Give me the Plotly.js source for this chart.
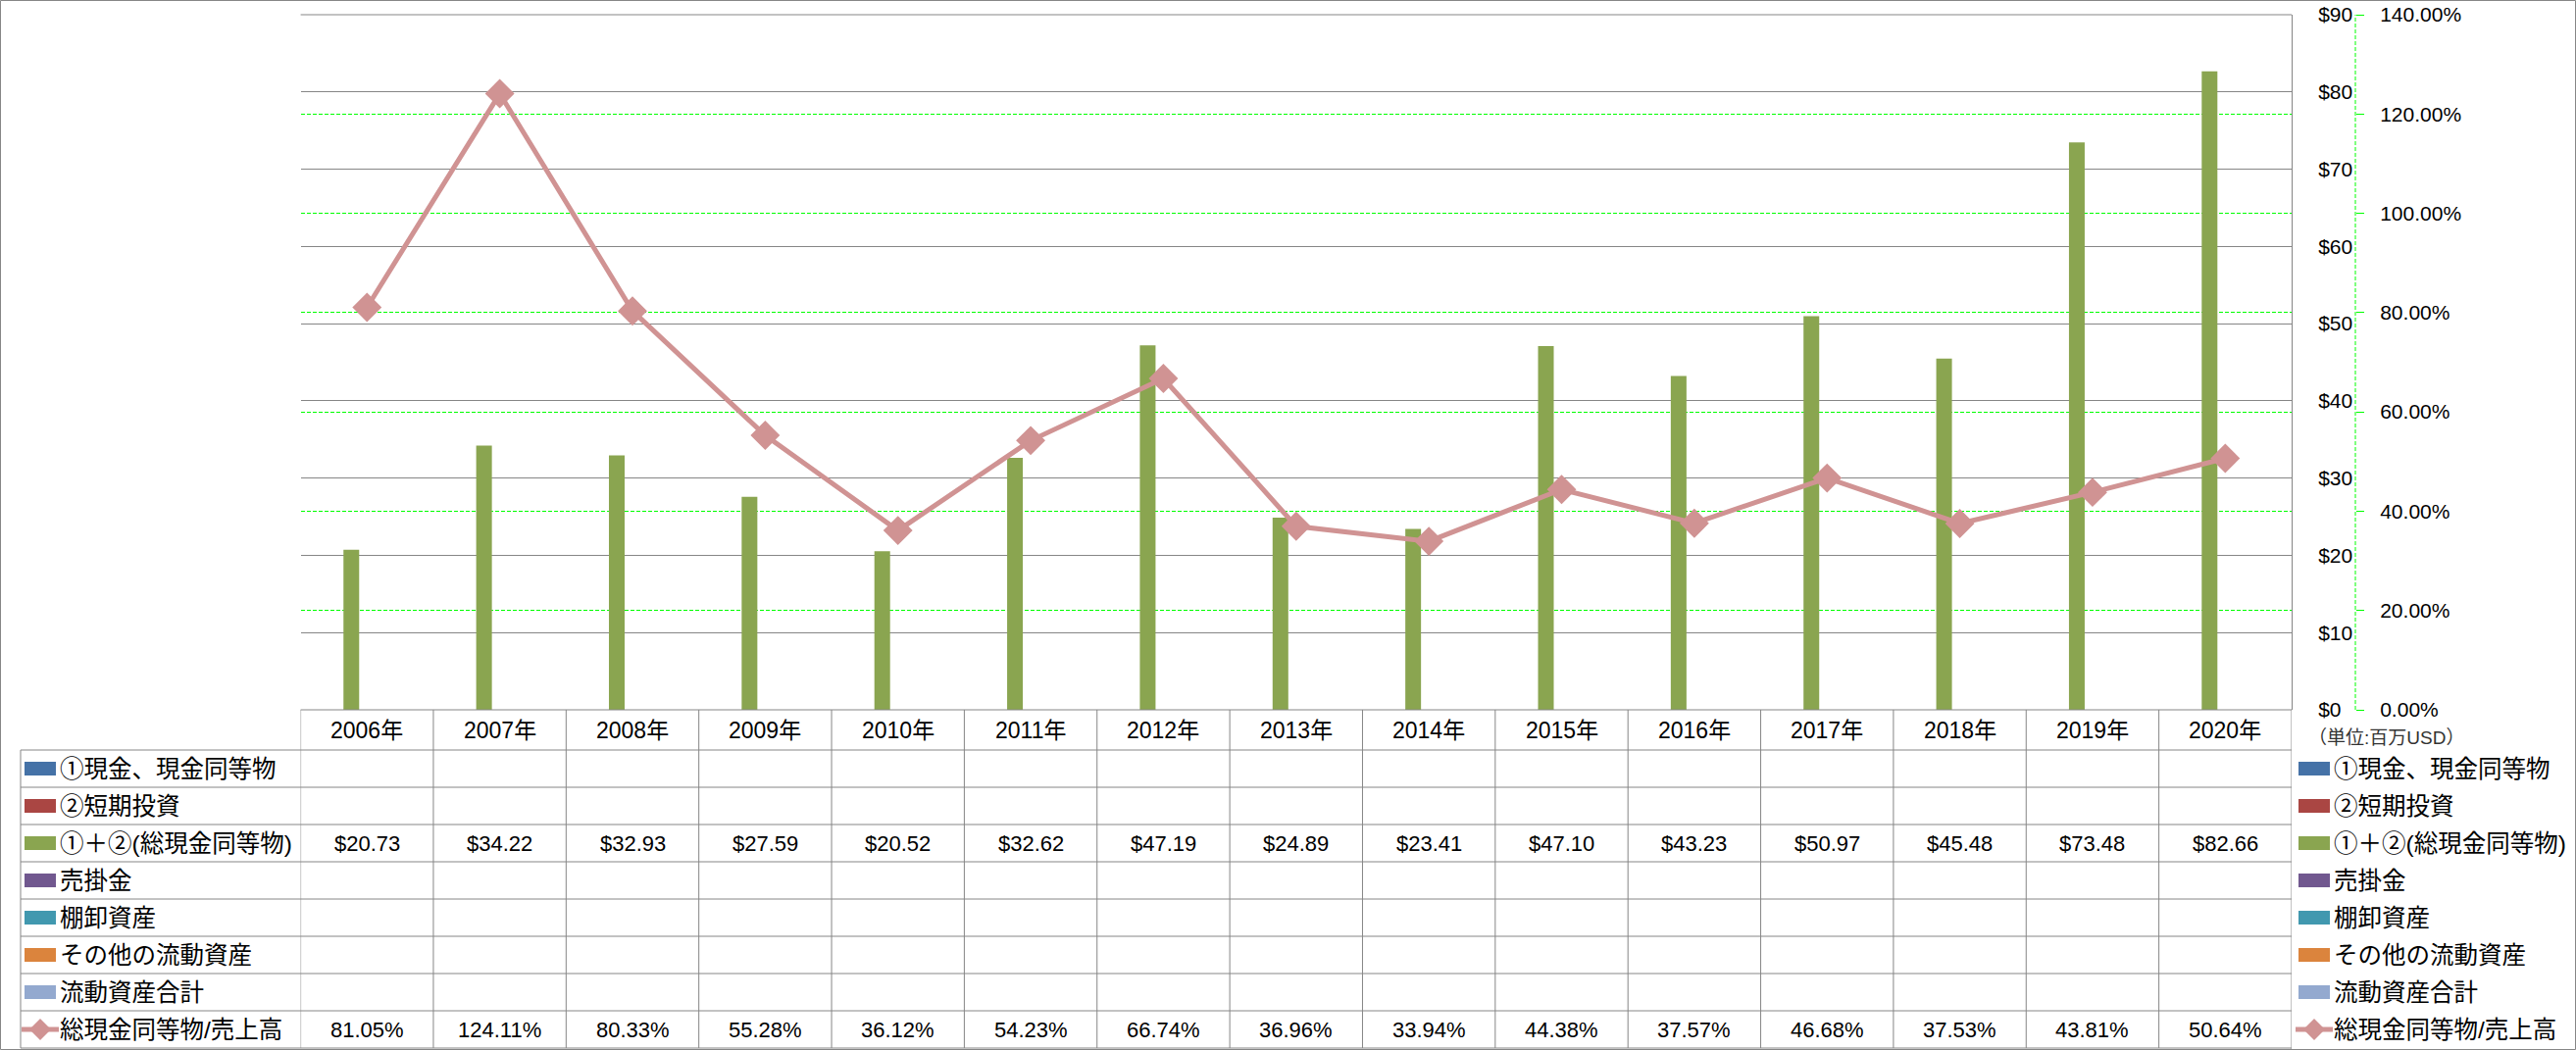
<!DOCTYPE html>
<html><head><meta charset="utf-8">
<script src="https://cdn.plot.ly/plotly-3.0.1.min.js"></script>
<style>html,body{margin:0;padding:0;background:#fff;}#chart{width:2627px;height:1071px;}</style>
</head><body><div id="chart"></div>
<script>
// ---------- data ----------
const years = ['2006年','2007年','2008年','2009年','2010年','2011年','2012年','2013年','2014年','2015年','2016年','2017年','2018年','2019年','2020年'];
const cashTotal = [20.73,34.22,32.93,27.59,20.52,32.62,47.19,24.89,23.41,47.10,43.23,50.97,45.48,73.48,82.66];
const cashToSales = [81.05,124.11,80.33,55.28,36.12,54.23,66.74,36.96,33.94,44.38,37.57,46.68,37.53,43.81,50.64];
const seriesNames = ['①現金、現金同等物','②短期投資','①＋②(総現金同等物)','売掛金','棚卸資産','その他の流動資産','流動資産合計','総現金同等物/売上高'];
const seriesColors = ['#4572A7','#AA4643','#8AA550','#71588F','#4198AF','#DB843D','#93A9CF','#D09393'];
const unitNote = '（単位:百万USD）';

// ---------- geometry helpers ----------
const W = 2627, H = 1071;
const X = px => px / W;
const Y = px => 1 - px / H;
const plotLeft = 306.6, plotRight = 2337, plotTop = 15, plotBottom = 724;
const headerBottom = 765, rowH = 38;
const rowCenter = k => headerBottom + rowH * k + rowH / 2;
const FONT = 'Liberation Sans, Noto Sans CJK JP, sans-serif';

// ---------- traces ----------
const traces = [];
for (let s = 0; s < 7; s++) {
  traces.push({
    type: 'bar', x: years,
    y: s === 2 ? cashTotal : years.map(() => null),
    name: seriesNames[s], marker: {color: seriesColors[s], line: {width: 0}},
    xaxis: 'x', yaxis: 'y', hoverinfo: 'skip'
  });
}
traces.push({
  type: 'scatter', mode: 'lines+markers', x: years,
  y: cashToSales.map(v => v / 100), name: seriesNames[7],
  xaxis: 'x', yaxis: 'y2',
  line: {color: seriesColors[7], width: 5},
  marker: {symbol: 'diamond', size: 23, color: seriesColors[7], line: {width: 0}},
  hoverinfo: 'skip'
});

// ---------- table + legend ----------
const shapes = [];
const annotations = [];
const gridGrey = '#868686';

// outer border
shapes.push({type: 'rect', xref: 'paper', yref: 'paper', x0: X(0.5), x1: X(W - 0.5), y0: Y(H - 0.5), y1: Y(0.5), line: {color: gridGrey, width: 1}});
// top gridline of the primary axis (drawn over the secondary 140% line)
shapes.push({type: 'line', xref: 'paper', yref: 'paper', x0: X(plotLeft), x1: X(plotRight), y0: Y(plotTop), y1: Y(plotTop), line: {color: gridGrey, width: 1}});
// header top
shapes.push({type: 'line', xref: 'paper', yref: 'paper', x0: X(plotLeft), x1: X(plotRight), y0: Y(plotBottom), y1: Y(plotBottom), line: {color: gridGrey, width: 1}});
// row lines
for (let k = 0; k <= 8; k++) {
  const yy = headerBottom + rowH * k;
  shapes.push({type: 'line', xref: 'paper', yref: 'paper', x0: X(21), x1: X(plotRight), y0: Y(yy), y1: Y(yy), line: {color: gridGrey, width: 1}});
}
const tableBottom = headerBottom + rowH * 8;
// column lines
for (let i = 0; i <= years.length; i++) {
  shapes.push({type: 'line', xref: 'x', yref: 'paper', x0: i - 0.5, x1: i - 0.5,
    y0: i === years.length ? 0 : Y(tableBottom), y1: Y(plotBottom), line: {color: gridGrey, width: 1}});
}
// left border of label column
shapes.push({type: 'line', xref: 'paper', yref: 'paper', x0: X(21), x1: X(21), y0: Y(tableBottom), y1: Y(headerBottom), line: {color: gridGrey, width: 1}});
// secondary axis dashed line
shapes.push({type: 'line', xref: 'paper', yref: 'paper', x0: X(2402), x1: X(2402), y0: Y(plotBottom), y1: Y(plotTop), line: {color: '#00FF00', width: 1, dash: '4px,2px'}});

// header year labels
years.forEach((yr, i) => {
  annotations.push({xref: 'x', yref: 'paper', x: yr, y: Y((plotBottom + headerBottom) / 2), text: yr, showarrow: false,
    xanchor: 'center', yanchor: 'middle', font: {family: FONT, size: 23, color: '#000'}});
});
// values
years.forEach((yr, i) => {
  annotations.push({xref: 'x', yref: 'paper', x: yr, y: Y(rowCenter(2)), text: '$' + cashTotal[i].toFixed(2), showarrow: false,
    xanchor: 'center', yanchor: 'middle', font: {family: FONT, size: 22, color: '#000'}});
  annotations.push({xref: 'x', yref: 'paper', x: yr, y: Y(rowCenter(7)), text: cashToSales[i].toFixed(2) + '%', showarrow: false,
    xanchor: 'center', yanchor: 'middle', font: {family: FONT, size: 22, color: '#000'}});
});

// legend keys (left table column and right legend)
function legendKey(k, xs) {
  const cy = rowCenter(k);
  if (k < 7) {
    shapes.push({type: 'rect', xref: 'paper', yref: 'paper', x0: X(xs), x1: X(xs + 32), y0: Y(cy + 7), y1: Y(cy - 7),
      fillcolor: seriesColors[k], line: {width: 0}});
  } else {
    shapes.push({type: 'line', xref: 'paper', yref: 'paper', x0: X(xs - 3), x1: X(xs + 35), y0: Y(cy), y1: Y(cy),
      line: {color: seriesColors[k], width: 5}});
    const c = xs + 16, r = 11;
    shapes.push({type: 'path', xref: 'paper', yref: 'paper',
      path: `M${X(c - r)},${Y(cy)} L${X(c)},${Y(cy - r)} L${X(c + r)},${Y(cy)} L${X(c)},${Y(cy + r)} Z`,
      fillcolor: seriesColors[k], line: {width: 0}});
  }
}
seriesNames.forEach((nm, k) => {
  legendKey(k, 25);
  annotations.push({xref: 'paper', yref: 'paper', x: X(59), y: Y(rowCenter(k)), text: nm, showarrow: false,
    xanchor: 'left', yanchor: 'middle', font: {family: FONT, size: 24.5, color: '#000'}});
  legendKey(k, 2344);
  annotations.push({xref: 'paper', yref: 'paper', x: X(2378), y: Y(rowCenter(k)), text: nm, showarrow: false,
    xanchor: 'left', yanchor: 'middle', font: {family: FONT, size: 24.5, color: '#000'}});
});
annotations.push({xref: 'paper', yref: 'paper', x: X(2352), y: Y(752), text: unitNote, showarrow: false,
  xanchor: 'left', yanchor: 'middle', font: {family: FONT, size: 19, color: '#333'}});

// ---------- layout ----------
const layout = {
  width: W, height: H,
  margin: {l: 0, r: 0, t: 0, b: 0, pad: 0},
  paper_bgcolor: '#fff', plot_bgcolor: 'rgba(0,0,0,0)',
  showlegend: false,
  barmode: 'group', bargap: 0.172, bargroupgap: 0,
  font: {family: FONT, color: '#000'},
  xaxis: {domain: [X(plotLeft), X(plotRight)], type: 'category', range: [-0.5, years.length - 0.5],
    showticklabels: false, ticks: '', showgrid: false, zeroline: false, showline: false, fixedrange: true},
  yaxis: {domain: [Y(plotBottom), Y(plotTop)], range: [0, 90], dtick: 10, tick0: 0, tickprefix: '$',
    side: 'right', showline: true, linecolor: gridGrey, linewidth: 1, mirror: false,
    showgrid: true, gridcolor: gridGrey, gridwidth: 1, zeroline: false, ticks: '',
    ticklabelstandoff: 22, tickfont: {family: FONT, size: 21, color: '#000'}, fixedrange: true},
  yaxis2: {overlaying: 'y', side: 'right', anchor: 'free', position: X(2402), range: [0, 1.4], dtick: 0.2, tick0: 0,
    tickformat: '.2%', showline: false, showgrid: true, gridcolor: '#00FF00', griddash: '4px,2px', gridwidth: 1,
    zeroline: false, ticks: 'outside', ticklen: 8, tickwidth: 1, tickcolor: '#00FF00',
    ticklabelstandoff: 12, tickfont: {family: FONT, size: 21, color: '#000'}, fixedrange: true},
  shapes: shapes,
  annotations: annotations
};

Plotly.newPlot('chart', traces, layout, {staticPlot: true, displayModeBar: false});
</script>
</body></html>
